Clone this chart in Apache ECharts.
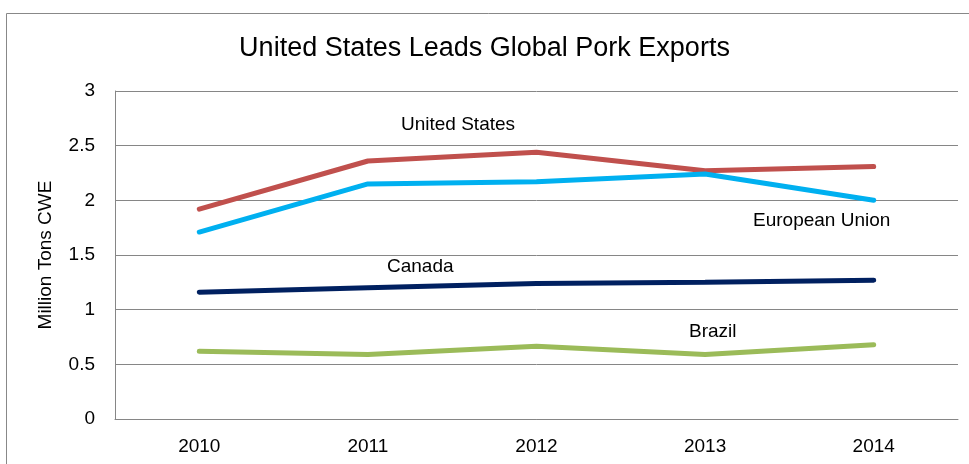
<!DOCTYPE html>
<html>
<head>
<meta charset="utf-8">
<script src="https://cdn.jsdelivr.net/npm/echarts@6/dist/echarts.min.js"></script>
<style>
  html, body { margin: 0; padding: 0; background: #fff; }
  #chart { width: 969px; height: 464px; }
</style>
</head>
<body>
<div id="chart"></div>
<script>
const years = ['2010', '2011', '2012', '2013', '2014']
const unitedStates = [1.92, 2.36, 2.44, 2.27, 2.31]
const europeanUnion = [1.71, 2.15, 2.17, 2.24, 2.0]
const canada = [1.16, 1.2, 1.24, 1.25, 1.27]
const brazil = [0.62, 0.59, 0.665, 0.59, 0.68]

const font = 'Liberation Sans, Arial, sans-serif'

const chart = echarts.init(document.getElementById('chart'))

const line = (name, data, color) => ({
  name: name,
  type: 'line',
  data: data,
  showSymbol: false,
  lineStyle: { color: color, width: 5, cap: 'round' },
  itemStyle: { color: color },
  animation: false
})

// labels sit next to the lines, like in the original
const note = (text, left, top) => ({
  type: 'text',
  left: left,
  top: top,
  style: { text: text, fontSize: 19, fontFamily: font, fill: '#000' }
})

chart.setOption({
  animation: false,
  title: {
    text: 'United States Leads Global Pork Exports',
    left: 'center',
    top: 30,
    textStyle: { fontSize: 27, fontWeight: 'normal', fontFamily: font, color: '#000' }
  },
  grid: { left: 115, right: 11, top: 91, bottom: 45 },
  xAxis: {
    type: 'category',
    data: years,
    boundaryGap: true,
    axisLine: { show: true, lineStyle: { color: '#868686' } },
    axisTick: { show: false },
    axisLabel: { color: '#000', fontSize: 19, fontFamily: font, margin: 18 }
  },
  yAxis: {
    type: 'value',
    min: 0,
    max: 3,
    interval: 0.5,
    name: 'Million Tons CWE',
    nameLocation: 'middle',
    nameGap: 60,
    nameTextStyle: { color: '#000', fontSize: 19, fontFamily: font },
    axisLine: { show: true, lineStyle: { color: '#868686' } },
    axisTick: { show: false },
    splitLine: { lineStyle: { color: '#868686', width: 1 } },
    axisLabel: { color: '#000', fontSize: 19, fontFamily: font, margin: 20 }
  },
  series: [
    line('United States', unitedStates, '#C0504D'),
    line('European Union', europeanUnion, '#00B0F0'),
    line('Canada', canada, '#002060'),
    line('Brazil', brazil, '#9BBB59')
  ],
  graphic: [
    {
      type: 'rect',
      left: 4,
      top: 11,
      shape: { width: 1000, height: 500 },
      style: { fill: 'none', stroke: '#888', lineWidth: 1 }
    },
    note('United States', 401, 115),
    note('European Union', 753, 211),
    note('Canada', 387, 257),
    note('Brazil', 689, 322)
  ]
})
</script>
</body>
</html>
